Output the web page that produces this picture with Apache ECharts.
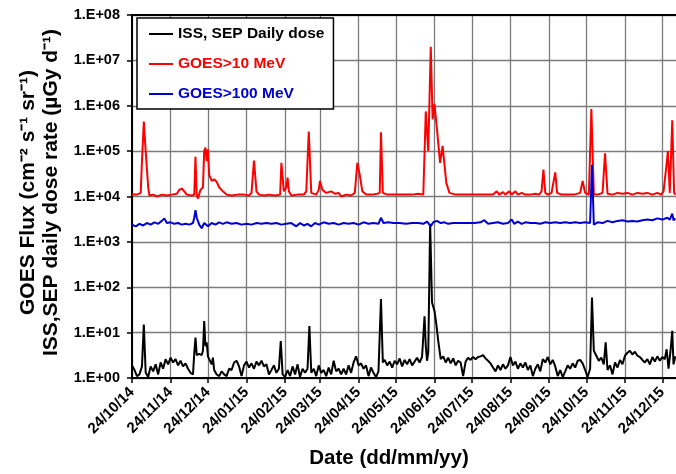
<!DOCTYPE html>
<html>
<head>
<meta charset="utf-8">
<script src="https://cdn.jsdelivr.net/npm/echarts@6/dist/echarts.min.js"></script>
<style>
  html, body { margin: 0; padding: 0; background: #fff; }
  #chart { width: 676px; height: 474px; }
</style>
</head>
<body>
<div id="chart"></div>
<script>
// x = days since 24/10/14, y = value
const START = Date.UTC(2014, 9, 24)
const END_DAY = 437

const issDose = [
  [0, 1.9], [2, 1.5], [4, 1.1], [6, 1.2], [8, 1.8], [9.5, 15], [11, 1.3], [13, 1.05], [15, 1.8], [17, 1.4],
  [19, 2], [21, 1.2], [23, 2.2], [25, 1.6], [27, 2.6], [29, 2], [31, 2.8], [33, 2.2], [35, 2.6], [37, 1.9],
  [39, 2.4], [41, 1.8], [43, 2.1], [45, 1.6], [47, 1.3], [49, 1.2], [50, 3.5], [51, 7.8], [52, 3.2], [54, 3.4],
  [56, 3.2], [57, 4], [58, 18], [59, 5], [60, 6.1], [61, 3], [62, 2.6], [64, 2], [65, 2.8], [66, 1.5],
  [68, 1.2], [70, 1.1], [72, 1.4], [74, 1.2], [76, 1.1], [78, 1.6], [80, 1.5], [82, 2.2], [84, 2.4], [86, 1.8],
  [88, 1.1], [90, 1.9], [92, 2.3], [94, 1.7], [96, 2.1], [98, 1.6], [100, 2.3], [102, 1.9], [104, 2.4], [106, 1.8],
  [108, 2], [110, 1.2], [112, 1.5], [114, 1.9], [116, 1.3], [118, 1.6], [119.5, 6.5], [121, 1.2], [123, 1.05], [125, 1.5],
  [127, 1.1], [129, 1.8], [131, 1.2], [133, 2], [135, 1.05], [137, 1.6], [139, 1.3], [141, 1.6], [142.5, 14], [144, 1.3],
  [146, 1.6], [148, 1.1], [150, 1.9], [152, 1.3], [154, 1.5], [156, 1.1], [158, 1.7], [160, 1.2], [162, 2.4], [164, 1.4],
  [166, 1.6], [168, 1.2], [170, 1.6], [172, 1.2], [174, 1.9], [176, 1.3], [178, 2.2], [180, 3], [182, 1.9], [184, 2.1],
  [186, 1.6], [188, 1.9], [190, 1.1], [192, 1.7], [194, 1.3], [196, 1.05], [198, 1.4], [200, 55], [201.5, 2.2], [203, 2.5],
  [205, 1.9], [207, 2.3], [209, 1.7], [211, 2.4], [213, 2], [215, 2.7], [217, 1.8], [219, 2.5], [221, 2], [223, 2.6],
  [225, 1.9], [227, 2.3], [229, 2.8], [231, 2.2], [233, 2.9], [235, 23], [236, 5], [237, 2.4], [238, 3.7], [239.5, 2500],
  [241, 46], [242, 44], [243, 30], [244.5, 15], [246, 6.6], [248, 2.6], [250, 3], [252, 2.2], [254, 2.8], [256, 2.1],
  [258, 2.7], [260, 1.9], [262, 2.4], [264, 2.2], [266, 1.1], [268, 2.3], [270, 2.8], [272, 2.5], [274, 2.9], [276, 2.6],
  [278, 2.9], [280, 3], [282, 3.2], [284, 2.7], [286, 2.4], [288, 2.1], [290, 1.7], [292, 1.4], [294, 1.9], [296, 1.5],
  [298, 2], [300, 1.6], [302, 1.9], [304, 2.9], [306, 1.9], [308, 2.3], [310, 1.6], [312, 2.1], [314, 1.7], [316, 2.2],
  [318, 1.5], [320, 1.9], [322, 1.1], [324, 1.6], [326, 2], [328, 1.4], [330, 2.6], [332, 2.2], [334, 2.9], [336, 2],
  [338, 2.5], [340, 1.8], [342, 1.1], [344, 1.5], [346, 1.05], [348, 1.4], [350, 1.9], [352, 1.6], [354, 2.1], [356, 1.7],
  [358, 2.4], [360, 2.5], [362, 2.1], [364, 1.5], [366, 1.05], [368, 1.6], [369.5, 59], [371, 4], [373, 3.1], [375, 2.4],
  [377, 2.8], [379, 2], [380.5, 6.1], [382, 1.5], [384, 1.9], [386, 1.2], [388, 2.2], [390, 1.7], [392, 2.5], [394, 2],
  [396, 3.1], [398, 3.6], [400, 4], [402, 3.3], [404, 3.8], [406, 3.1], [408, 2.9], [410, 2.5], [412, 2.2], [414, 2.6],
  [416, 2], [418, 2.9], [420, 2.3], [422, 3], [424, 2.4], [426, 2.9], [428, 2.6], [429.5, 4.3], [431, 1.6], [432.5, 3.7],
  [434, 11], [435, 2], [436.5, 3]
]

const goes10 = [
  [0, 1.1e4], [4, 1.1e4], [7, 1.2e4], [8, 6e4], [9.5, 4.5e5], [11, 1e5], [13, 1.6e4], [14, 1.05e4], [17, 1.1e4], [20, 1e4],
  [24, 1.1e4], [28, 1.05e4], [32, 1.1e4], [36, 1.15e4], [38, 1.4e4], [40, 1.5e4], [42, 1.3e4], [44, 1.1e4], [48, 1.05e4], [50, 1.1e4],
  [51, 7.5e4], [52, 1.1e4], [53, 9e3], [55, 1.4e4], [56, 1.3e4], [57, 1.6e4], [58, 1e5], [59, 1.2e5], [60, 6e4], [61, 1.1e5],
  [62, 3e4], [64, 2.2e4], [66, 2.4e4], [68, 2.1e4], [70, 1.6e4], [73, 1.3e4], [76, 1.1e4], [80, 1.05e4], [85, 1.1e4], [90, 1.1e4],
  [94, 1.05e4], [96, 1.2e4], [98, 6.2e4], [100, 1.3e4], [102, 1.1e4], [106, 1.05e4], [110, 1.1e4], [115, 1.05e4], [119, 1.1e4], [120, 5.5e4],
  [122, 1.3e4], [124, 1.6e4], [125, 2.6e4], [126, 1.3e4], [128, 1.05e4], [133, 1.1e4], [138, 1.1e4], [140, 1.3e4], [142, 2.7e5], [144, 1.2e4],
  [148, 1.1e4], [150, 1.4e4], [151, 2.2e4], [153, 1.4e4], [156, 1.2e4], [160, 1.3e4], [163, 1.15e4], [166, 1.2e4], [168, 1e4], [172, 1.1e4],
  [176, 1.05e4], [179, 1.2e4], [181, 5.5e4], [183, 3e4], [185, 1.3e4], [188, 1.1e4], [193, 1.1e4], [197, 1.15e4], [199, 1.2e4], [200, 2.6e5],
  [201.5, 1.2e4], [205, 1.1e4], [210, 1.1e4], [215, 1.1e4], [220, 1.1e4], [225, 1.1e4], [230, 1.15e4], [234, 1.1e4], [236, 7.5e5], [238, 1e5],
  [240, 2e7], [241.5, 5e5], [243, 1.1e6], [245, 3e5], [247.5, 5.5e4], [249.5, 1.3e5], [251, 1.3e5], [252.5, 2e4], [255, 1.2e4], [260, 1.1e4],
  [265, 1.1e4], [270, 1.1e4], [275, 1.1e4], [280, 1.1e4], [285, 1.1e4], [290, 1.1e4], [293, 1.3e4], [295, 1.1e4], [298, 1.25e4], [300, 1.1e4],
  [303, 1.3e4], [305, 1.1e4], [308, 1.3e4], [310, 1.1e4], [313, 1.2e4], [316, 1.1e4], [320, 1.1e4], [324, 1.15e4], [327, 1.1e4], [329, 1.3e4],
  [330.5, 3.9e4], [332, 1.2e4], [334, 1.1e4], [337, 1.2e4], [340, 3.4e4], [341.5, 1.2e4], [345, 1.1e4], [350, 1.1e4], [355, 1.1e4], [360, 1.2e4],
  [362, 2.2e4], [364, 1.2e4], [367, 1.1e4], [369, 8.5e5], [371, 1.1e4], [374, 1.1e4], [378, 1.2e4], [380, 9e4], [382, 1.15e4], [386, 1.1e4],
  [390, 1.2e4], [394, 1.15e4], [398, 1.2e4], [402, 1.1e4], [406, 1.2e4], [410, 1.15e4], [414, 1.2e4], [418, 1.1e4], [422, 1.2e4], [425, 1.1e4],
  [427, 1.3e4], [429, 4e4], [430.5, 1e5], [432, 1.2e4], [434, 4.8e5], [435.5, 1.2e4], [436.5, 1.1e4]
]

const goes100 = [
  [0, 2400], [3, 2200], [6, 2500], [9, 2300], [12, 2600], [15, 2400], [18, 2700], [21, 2500], [24, 2900], [26, 3300],
  [28, 2600], [31, 2700], [34, 2500], [37, 2600], [40, 2400], [43, 2500], [46, 2400], [49, 2600], [50, 3400], [51, 5000],
  [52, 3400], [54, 2400], [56, 2000], [58, 2600], [61, 2200], [64, 2600], [67, 2400], [70, 2700], [73, 2500], [76, 2700],
  [80, 2500], [84, 2600], [88, 2400], [92, 2500], [96, 2400], [100, 2600], [104, 2500], [108, 2600], [112, 2500], [116, 2600],
  [120, 2400], [124, 2500], [128, 2600], [132, 2200], [135, 2600], [138, 2300], [141, 2500], [144, 2200], [147, 2600], [150, 2400],
  [154, 2700], [158, 2500], [162, 2600], [166, 2400], [170, 2600], [174, 2500], [178, 2600], [182, 2400], [186, 2700], [190, 2500],
  [194, 2600], [198, 2500], [200, 3400], [202, 2600], [206, 2700], [210, 2600], [215, 2600], [220, 2500], [225, 2600], [230, 2600],
  [234, 2500], [237, 2800], [240, 2200], [242, 2700], [245, 2900], [248, 2600], [251, 2700], [254, 2500], [258, 2600], [262, 2600],
  [266, 2600], [270, 2600], [275, 2600], [280, 2700], [283, 3000], [286, 2500], [290, 2600], [294, 2700], [298, 2500], [302, 2600],
  [305, 3100], [307, 2500], [310, 2800], [313, 2500], [316, 2700], [320, 2600], [324, 2600], [328, 2500], [332, 2700], [336, 2600],
  [340, 2700], [344, 2600], [348, 2700], [352, 2600], [356, 2700], [360, 2600], [364, 2700], [368, 2600], [369.5, 5e4], [371, 2400],
  [374, 2700], [378, 2600], [382, 2900], [386, 2700], [390, 2900], [394, 3000], [398, 2800], [402, 2900], [406, 2800], [410, 3000],
  [414, 3100], [418, 3000], [422, 3300], [426, 3100], [430, 3400], [432, 3100], [434, 4200], [435, 3000], [436.5, 3300]
]

// tick marks on the 24th of every month
const tickMonths = [
  [2014, 9], [2014, 10], [2014, 11], [2015, 0], [2015, 1], [2015, 2], [2015, 3], [2015, 4],
  [2015, 5], [2015, 6], [2015, 7], [2015, 8], [2015, 9], [2015, 10], [2015, 11]
]

const DAY = 86400000
const tickDays = tickMonths.map(m => Math.round((Date.UTC(m[0], m[1], 24) - START) / DAY))
const pad = n => (n < 10 ? '0' : '') + n
const fmtDay = v => {
  const d = new Date(START + Math.round(v) * DAY)
  return pad(d.getUTCDate()) + '/' + pad(d.getUTCMonth() + 1) + '/' + pad(d.getUTCFullYear() % 100)
}

const FONT = 'Liberation Sans, Arial, sans-serif'
const chart = echarts.init(document.getElementById('chart'))
chart.setOption({
  animation: false,
  backgroundColor: '#fff',
  grid: { left: 132, top: 15, right: 0, bottom: 95 },
  legend: {
    orient: 'vertical',
    left: 137,
    top: 18,
    padding: [8, 9, 7, 12],
    backgroundColor: '#fff',
    borderColor: '#000',
    borderWidth: 1.5,
    itemWidth: 24,
    itemHeight: 14,
    itemGap: 14,
    icon: 'path://M0,6 L24,6 L24,8 L0,8 Z',
    textStyle: { fontFamily: FONT, fontWeight: 'bold', fontSize: 15.5 },
    data: [
      { name: 'ISS, SEP Daily dose', textStyle: { color: '#000' } },
      { name: 'GOES>10 MeV', textStyle: { color: '#ff0000' } },
      { name: 'GOES>100 MeV', textStyle: { color: '#0000cc' } }
    ]
  },
  xAxis: [
    {
      type: 'value',
      min: 0,
      max: END_DAY,
      name: 'Date (dd/mm/yy)',
      nameLocation: 'middle',
      nameGap: 70,
      nameTextStyle: {
        fontFamily: FONT, fontWeight: 'bold', fontSize: 20.5, color: '#000',
        padding: [0, 30, 0, 0]
      },
      axisLine: { lineStyle: { color: '#000', width: 2 } },
      axisTick: { show: true, length: 5, customValues: tickDays, lineStyle: { color: '#000', width: 1.5 } },
      axisLabel: {
        customValues: tickDays,
        rotate: 45,
        margin: 12,
        formatter: fmtDay,
        fontFamily: FONT,
        fontWeight: 'bold',
        fontSize: 15,
        color: '#000'
      },
      splitLine: { show: true, lineStyle: { color: '#7a7a7a', width: 1.3 } }
    },
    {
      type: 'value',
      position: 'top',
      min: 0,
      max: END_DAY,
      axisLine: { show: true, lineStyle: { color: '#000', width: 2 } },
      axisTick: { show: false },
      axisLabel: { show: false },
      splitLine: { show: false }
    }
  ],
  yAxis: {
    type: 'log',
    logBase: 10,
    min: 1,
    max: 1e8,
    name: 'GOES Flux (cm\u207B\u00B2 s\u207B\u00B9 sr\u207B\u00B9)\nISS,SEP daily dose rate (\u00B5Gy d\u207B\u00B9)',
    nameLocation: 'middle',
    nameGap: 66,
    nameTextStyle: {
      fontFamily: FONT, fontWeight: 'bold', fontSize: 21, lineHeight: 23, color: '#000',
      padding: [0, 0, 0, 8]
    },
    axisLine: { show: true, lineStyle: { color: '#000', width: 2 } },
    axisTick: { show: true, length: 5, lineStyle: { color: '#000', width: 1.5 } },
    axisLabel: {
      margin: 12,
      fontFamily: FONT,
      fontWeight: 'bold',
      fontSize: 14.5,
      color: '#000',
      formatter: v => '1.E+' + pad(Math.round(Math.log10(v)))
    },
    splitLine: { show: true, lineStyle: { color: '#7a7a7a', width: 1.3 } }
  },
  series: [
    {
      name: 'ISS, SEP Daily dose',
      type: 'line',
      showSymbol: false,
      color: '#000',
      lineStyle: { width: 2 },
      data: issDose
    },
    {
      name: 'GOES>10 MeV',
      type: 'line',
      showSymbol: false,
      color: '#ff0000',
      lineStyle: { width: 2 },
      data: goes10
    },
    {
      name: 'GOES>100 MeV',
      type: 'line',
      showSymbol: false,
      color: '#0000cc',
      lineStyle: { width: 2 },
      data: goes100
    }
  ]
})
</script>
</body>
</html>
